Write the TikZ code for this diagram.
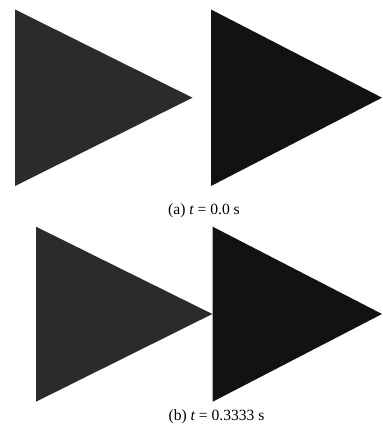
\documentclass[tikz,border=0pt]{standalone}
\usepackage{fontspec}
\setmainfont{Liberation Serif}
\begin{document}
\begin{tikzpicture}[x=0.75pt,y=-0.75pt,
  lefttri/.style={fill=lg, draw=none},
  righttri/.style={fill=dg, draw=none},
  caption/.style={font=\fontsize{11.7pt}{13pt}\selectfont, inner sep=0pt, anchor=center}]
\definecolor{lg}{HTML}{2B2B2B}
\definecolor{dg}{HTML}{121212}
\useasboundingbox[fill=white] (0,0) rectangle (382,428);
% row (a)
\coordinate (a1) at (15,9.5);
\coordinate (a2) at (192.5,97.7);
\coordinate (a3) at (15,186);
\fill[lefttri] (a1) -- (a2) -- (a3) -- cycle;
\coordinate (b1) at (211,9.5);
\coordinate (b2) at (382,97.7);
\coordinate (b3) at (211,186);
\fill[righttri] (b1) -- (b2) -- (b3) -- cycle;
\node[caption] (capa) at (204,211) {(a) {\itshape t} = 0.0 s};
% row (b)
\coordinate (c1) at (36,226.7);
\coordinate (c2) at (212.3,314);
\coordinate (c3) at (36,401.7);
\fill[lefttri] (c1) -- (c2) -- (c3) -- cycle;
\coordinate (d1) at (212.7,226.7);
\coordinate (d2) at (382,314);
\coordinate (d3) at (212.7,401.7);
\fill[righttri] (d1) -- (d2) -- (d3) -- cycle;
\node[caption] (capb) at (216.5,416.5) {(b) {\itshape t} = 0.3333 s};
\end{tikzpicture}
\end{document}
